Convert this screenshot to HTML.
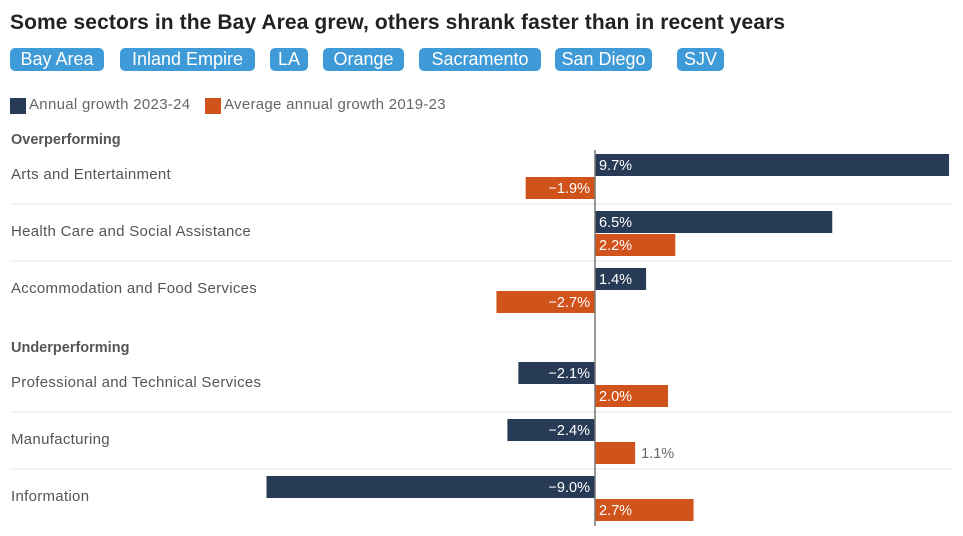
<!DOCTYPE html>
<html><head><meta charset="utf-8"><style>
body{margin:0;width:963px;height:536px;background:#fff;font-family:"Liberation Sans",sans-serif;position:relative;overflow:hidden}
.t{position:absolute;left:10px;top:11px;font-size:21px;font-weight:bold;color:#222;letter-spacing:0.1px}
.b{position:absolute;top:48px;height:23px;line-height:23px;background:#3f9ad8;color:#fff;font-size:18px;border-radius:5px;text-align:center}
.lg{position:absolute;top:96px;font-size:15px;color:#666;letter-spacing:0.3px}
.sw{position:absolute;top:98px;width:16px;height:16px}
</style></head><body>
<div class="t">Some sectors in the Bay Area grew, others shrank faster than in recent years</div>
<div class="b" style="left:10px;width:94px">Bay Area</div>
<div class="b" style="left:120px;width:135px">Inland Empire</div>
<div class="b" style="left:270px;width:38px">LA</div>
<div class="b" style="left:323px;width:81px">Orange</div>
<div class="b" style="left:419px;width:122px">Sacramento</div>
<div class="b" style="left:555px;width:97px">San Diego</div>
<div class="b" style="left:677px;width:47px">SJV</div>
<div class="sw" style="left:10px;background:#273a56"></div>
<div class="lg" style="left:29px">Annual growth 2023-24</div>
<div class="sw" style="left:205px;background:#d1531c"></div>
<div class="lg" style="left:224px">Average annual growth 2019-23</div>
<svg id="c" width="963" height="536" style="position:absolute;left:0;top:0"></svg>
<script>
const categories=["Arts and Entertainment","Health Care and Social Assistance","Accommodation and Food Services","Professional and Technical Services","Manufacturing","Information"];
const groups=["Overperforming","Overperforming","Overperforming","Underperforming","Underperforming","Underperforming"];
const growth2324=[9.7,6.5,1.4,-2.1,-2.4,-9.0];
const growth1923=[-1.9,2.2,-2.7,2.0,1.1,2.7];
const rowTops=[154,211,268,362,419,476];
const svg=document.getElementById('c');const NS='http://www.w3.org/2000/svg';
const x0=595,k=36.5;
const x=v=>x0+v*k;
function el(t,a,txt){const e=document.createElementNS(NS,t);for(const n in a)e.setAttribute(n,a[n]);if(txt!==undefined)e.textContent=txt;svg.appendChild(e);return e;}
function fmt(v){return (v<0?'\u2212'+Math.abs(v).toFixed(1):v.toFixed(1))+'%';}
const h1=el('text',{x:11,y:144,'font-size':14.5,'font-weight':'bold',fill:'#555'},'Overperforming');


const h2=el('text',{x:11,y:352,'font-size':14.5,'font-weight':'bold',fill:'#555'},'Underperforming');


[204,261,412,469].forEach(y=>{const l=el('line',{x1:10,x2:953,y1:y,y2:y,stroke:'#e4e4e4'});

});
function bar(v,y,col,name){
 const x1=Math.min(x(v),x0),w=Math.abs(x(v)-x0);
 const r=el('rect',{x:x1,y:y,width:w,height:22,fill:col});
 
 
 const s=fmt(v);const tw=s.length*9;
 let t;
 if(w>tw+8){
  t=v>=0?el('text',{x:x0+4,y:y+16,'font-size':14.5,fill:'#fff'},s):el('text',{x:x0-5,y:y+16,'font-size':14.5,fill:'#fff','text-anchor':'end'},s);
 }else{
  t=v>=0?el('text',{x:x(v)+6,y:y+16,'font-size':14.5,fill:'#666'},s):el('text',{x:x(v)-6,y:y+16,'font-size':14.5,fill:'#666','text-anchor':'end'},s);
 }
 
 
}
categories.forEach((c,i)=>{
 const y=rowTops[i];
 const lb=el('text',{x:11,y:y+25,'font-size':15,fill:'#555','letter-spacing':0.3},c);
 
 
 bar(growth2324[i],y,'#273a56','bar-2023-24');
 bar(growth1923[i],y+23,'#d1531c','bar-2019-23');
});
const z=el('line',{x1:x0,x2:x0,y1:150,y2:526,stroke:'#777','stroke-width':1.5});


</script>
</body></html>
